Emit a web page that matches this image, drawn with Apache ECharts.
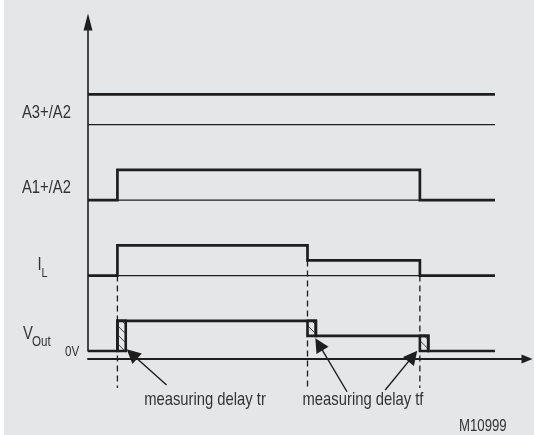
<!DOCTYPE html>
<html>
<head>
<meta charset="utf-8">
<script src="https://cdn.jsdelivr.net/npm/echarts@6/dist/echarts.min.js"></script>
<style>
  html, body { margin: 0; padding: 0; background: #e5e6e8; }
  #chart { width: 534px; height: 435px; }
</style>
</head>
<body>
<div id="chart"></div>
<script>
//---- timing diagram M10999 (levels in diagram units, time 0..100)

var endTime = 92.7;
var edgeTimes = [6.7, 50, 75.6];            // A1 on, I_L drop, A1 off
var a3Trace = [[0, 17], [92.7, 17]];
var a1Trace = [[0, 10], [6.7, 12], [75.6, 10], [92.7, 10]];
var ilTrace = [[0, 5], [6.7, 7], [50, 6], [75.6, 5], [92.7, 5]];
var voutTrace = [[0, 0], [6.7, 2], [51.9, 1], [77.5, 0], [92.7, 0]];
var refLevels = [15, 10, 5];                 // thin reference lines
var hatchBoxes = [[6.7, 8.6, 0, 2], [50, 51.9, 1, 2], [75.6, 77.5, 0, 1]];
var guideTops = [5, 6, 5];
var guideBottom = -2.45;
var pointers = [
    [[17.9, -2.25], [10.0, -0.2]],
    [[59.0, -2.7], [52.6, 0.44]],
    [[67.7, -2.58], [74.0, -0.34]]
];

var font = "'Liberation Sans', Arial, sans-serif";
var narrow = 0.8;   // no condensed face installed, squeeze the text instead
var ink = '#1e1e1e';
var textInk = '#333333';

var dom = document.getElementById('chart');
var myChart = echarts.init(dom, null, { renderer: 'canvas' });

var series = [];

// thin reference lines
refLevels.forEach(function (v) {
    series.push({
        type: 'line', data: [[0, v], [endTime, v]], symbol: 'none', silent: true,
        lineStyle: { color: ink, width: 1.2 }, clip: false, z: 2
    });
});

// signal traces
[a3Trace, a1Trace, ilTrace, voutTrace].forEach(function (tr) {
    series.push({
        type: 'line', data: tr, step: 'end', symbol: 'none', silent: true,
        lineStyle: { color: ink, width: 2.7, join: 'miter' }, clip: false, z: 3
    });
});

// dashed guides
edgeTimes.forEach(function (t, i) {
    series.push({
        type: 'line', data: [[t, guideTops[i]], [t, guideBottom]], symbol: 'none', silent: true,
        lineStyle: { color: ink, width: 1.3, type: [6, 4] }, clip: false, z: 2
    });
});

// pointer arrows
series.push({
    type: 'lines',
    coordinateSystem: 'cartesian2d',
    clip: false,
    silent: true,
    z: 5,
    symbol: ['none', 'triangle'],
    symbolSize: [7, 14],
    lineStyle: { color: ink, width: 1.4, opacity: 1 },
    data: pointers.map(function (p) { return { coords: p }; })
});

// hatched delay boxes
series.push({
    type: 'custom',
    data: hatchBoxes,
    clip: false,
    silent: true,
    z: 4,
    encode: { x: [0, 1], y: [2, 3] },
    renderItem: function (params, api) {
        var p0 = api.coord([api.value(0), api.value(3)]);
        var p1 = api.coord([api.value(1), api.value(2)]);
        var x = p0[0], y = p0[1], w = p1[0] - p0[0], h = p1[1] - p0[1];
        var kids = [];
        var step = 9;
        for (var c = -w + 4; c < h; c += step) {
            var x0 = c < 0 ? x - c : x, y0 = c < 0 ? y : y + c;
            var x1 = c + w > h ? x + (h - c) : x + w, y1 = c + w > h ? y + h : y + c + w;
            kids.push({ type: 'line', shape: { x1: x0, y1: y0, x2: x1, y2: y1 },
                style: { stroke: '#444', lineWidth: 1 } });
        }
        kids.push({ type: 'rect', shape: { x: x, y: y, width: w, height: h },
            style: { fill: 'none', stroke: ink, lineWidth: 2.6 } });
        return { type: 'group', children: kids };
    }
});

function txt(x, y, s, size, align) {
    return {
        type: 'text', x: x, y: y, scaleX: narrow, silent: true,
        style: { text: s, fill: textInk, font: size + 'px ' + font,
            align: align || 'left', verticalAlign: 'middle' }
    };
}

option = {
    backgroundColor: '#e5e6e8',
    animation: false,
    grid: { left: 88, right: 7, top: 22, bottom: 84 },
    xAxis: {
        type: 'value', min: 0, max: 100, offset: 8,
        axisLine: { show: true, onZero: false, symbol: ['none', 'triangle'], symbolSize: [9, 11],
            lineStyle: { color: ink, width: 2 } },
        axisTick: { show: false }, axisLabel: { show: false }, splitLine: { show: false }
    },
    yAxis: {
        type: 'value', min: 0, max: 21.8,
        axisLine: { show: true, onZero: false, symbol: ['none', 'triangle'], symbolSize: [9, 17],
            lineStyle: { color: ink, width: 1.6 } },
        axisTick: { show: false }, axisLabel: { show: false }, splitLine: { show: false }
    },
    graphic: [
        { type: 'rect', shape: { x: 0, y: 0, width: 4, height: 435 }, style: { fill: '#ffffff' }, silent: true },
        txt(22, 112.5, 'A3+/A2', 18.5),
        txt(22, 188, 'A1+/A2', 18.5),
        txt(37.5, 264.5, 'I', 18.5),
        txt(41.5, 273.5, 'L', 13.5),
        txt(23, 333.5, 'V', 18.5),
        txt(32, 341.5, 'Out', 14.5),
        txt(65, 352, '0V', 14.5),
        txt(205, 400, 'measuring delay tr', 18.5, 'center'),
        txt(363, 400, 'measuring delay tf', 18.5, 'center'),
        txt(459, 426.5, 'M10999', 16.5)
    ],
    series: series
};

if (option && typeof option === 'object') {
    myChart.setOption(option, true);
}
</script>
</body>
</html>
